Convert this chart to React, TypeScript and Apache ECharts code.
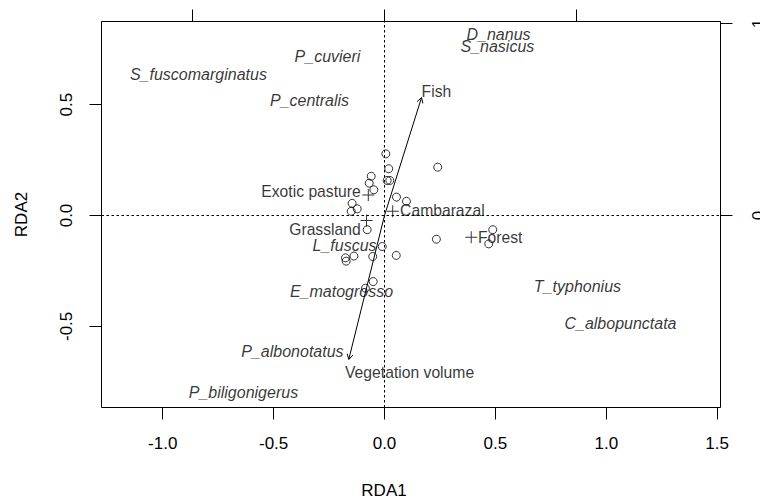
import React, { useEffect, useRef } from "react";
import * as echarts from "echarts";

// Axis ranges (primary: RDA scores; secondary: biplot scale)
const xRange = [-1.276, 1.515];
const yRange = [-0.866, 0.875];
const secondaryMult = 1.155;
const xTicks = [-1.0, -0.5, 0.0, 0.5, 1.0, 1.5];
const yTicks = [-0.5, 0.0, 0.5];
const topTicks = [-1, 0, 1];
const rightTicks = [0, 1];

// Site scores
const siteX = [0.006, 0.019, 0.24, -0.06, -0.069, 0.012, 0.024, -0.048, 0.054, 0.099, -0.146, -0.123, -0.15, -0.078, 0.234, 0.488, 0.47, -0.01, 0.053, -0.138, -0.176, -0.173, -0.053, -0.051, -0.086];
const siteY = [0.278, 0.211, 0.218, 0.177, 0.146, 0.158, 0.158, 0.116, 0.083, 0.064, 0.055, 0.03, 0.019, -0.064, -0.107, -0.064, -0.128, -0.14, -0.18, -0.183, -0.191, -0.206, -0.185, -0.298, -0.328];

// Species scores
const speciesNames = ["D_nanus", "S_nasicus", "P_cuvieri", "S_fuscomarginatus", "P_centralis", "L_fuscus", "E_matogrosso", "T_typhonius", "C_albopunctata", "P_albonotatus", "P_biligonigerus"];
const speciesX = [0.514, 0.509, -0.257, -0.839, -0.338, -0.18, -0.194, 0.87, 1.064, -0.415, -0.636];
const speciesY = [0.816, 0.762, 0.717, 0.636, 0.518, -0.135, -0.345, -0.32, -0.487, -0.615, -0.8];

// Factor centroids
const centroidNames = ["Exotic pasture", "Grassland", "Cambarazal", "Forest"];
const centroidX = [-0.073, -0.081, 0.037, 0.391];
const centroidY = [0.093, -0.023, 0.019, -0.098];
const centroidLabelX = [-0.105, -0.105, 0.068, 0.419];
const centroidLabelY = [0.108, -0.064, 0.023, -0.099];
const centroidLabelSide = ["left", "left", "right", "right"];

// Biplot arrows (continuous constraints)
const arrowNames = ["Fish", "Vegetation volume"];
const arrowX = [0.167, -0.161];
const arrowY = [0.532, -0.649];
const arrowLabelX = [0.234, 0.113];
const arrowLabelY = [0.559, -0.708];

const FONT = "'Liberation Sans', Arial, Helvetica, sans-serif";

export default function App() {
  const ref = useRef<HTMLDivElement>(null);
  useEffect(() => {
    if (!ref.current) return;
    const chart = echarts.init(ref.current, undefined, { renderer: "svg" });
    const axisCommon = {
      splitLine: { show: false },
      axisLine: { show: false, onZero: false },
    };
    const option: any = {
      animation: false,
      backgroundColor: "#ffffff",
      grid: {
        left: 101.5,
        top: 21.5,
        width: 619,
        height: 386,
        show: true,
        borderColor: "#000",
        borderWidth: 1,
        backgroundColor: "transparent",
        containLabel: false,
        outerBoundsMode: "none",
      },
      xAxis: [
        {
          type: "value",
          position: "bottom",
          min: xRange[0],
          max: xRange[1],
          ...axisCommon,
          axisTick: { show: true, length: 12, inside: false, customValues: xTicks, lineStyle: { color: "#000", width: 1 } },
          axisLabel: {
            show: true,
            customValues: xTicks,
            margin: 27,
            color: "#000",
            fontSize: 17,
            fontFamily: FONT,
            formatter: (v: number) => v.toFixed(1),
          },
          name: "RDA1",
          nameLocation: "middle",
          nameGap: 74,
          nameTextStyle: { color: "#000", fontSize: 17, fontFamily: FONT, padding: [0, 54, 0, 0] },
        },
        {
          type: "value",
          position: "top",
          min: xRange[0] * secondaryMult,
          max: xRange[1] * secondaryMult,
          ...axisCommon,
          axisTick: { show: true, length: 12, customValues: topTicks, lineStyle: { color: "#000", width: 1 } },
          axisLabel: { show: false },
        },
      ],
      yAxis: [
        {
          type: "value",
          position: "left",
          min: yRange[0],
          max: yRange[1],
          ...axisCommon,
          axisTick: { show: true, length: 12, customValues: yTicks, lineStyle: { color: "#000", width: 1 } },
          axisLabel: {
            show: true,
            customValues: yTicks,
            rotate: 90,
            margin: 27,
            color: "#000",
            fontSize: 17,
            fontFamily: FONT,
            formatter: (v: number) => v.toFixed(1),
          },
          name: "RDA2",
          nameLocation: "middle",
          nameGap: 72,
          nameTextStyle: { color: "#000", fontSize: 17, fontFamily: FONT },
        },
        {
          type: "value",
          position: "right",
          min: yRange[0] * secondaryMult,
          max: yRange[1] * secondaryMult,
          ...axisCommon,
          axisTick: { show: true, length: 12, customValues: rightTicks, lineStyle: { color: "#000", width: 1 } },
          axisLabel: {
            show: true,
            customValues: rightTicks,
            rotate: 90,
            margin: 29,
            color: "#000",
            fontSize: 17,
            fontFamily: FONT,
            formatter: (v: number) => String(v),
          },
        },
      ],
      series: [
        {
          type: "scatter",
          name: "zero",
          data: [],
          silent: true,
          markLine: {
            silent: true,
            symbol: ["none", "none"],
            label: { show: false },
            lineStyle: { color: "#000", width: 1, type: [2.5, 2.5] },
            data: [{ xAxis: 0 }, { yAxis: 0 }],
          },
        },
        {
          type: "scatter",
          name: "sites",
          symbol: "circle",
          symbolSize: 8,
          itemStyle: { color: "rgba(0,0,0,0)", borderColor: "#000", borderWidth: 1 },
          data: siteX.map((x, i) => [x, siteY[i]]),
          z: 3,
        },
        {
          type: "scatter",
          name: "centroids",
          symbol: "path://M5.5,0h1v12h-1z M0,5.5h12v1h-12z",
          symbolSize: 12,
          itemStyle: { color: "#000" },
          data: centroidX.map((x, i) => [x, centroidY[i]]),
          z: 4,
        },
        {
          type: "scatter",
          name: "centroidLabels",
          symbolSize: 1,
          itemStyle: { color: "rgba(0,0,0,0)" },
          data: centroidNames.map((n, i) => ({
            value: [centroidLabelX[i], centroidLabelY[i]],
            name: n,
            label: { position: centroidLabelSide[i], distance: 0 },
          })),
          label: {
            show: true,
            formatter: (p: any) => p.name,
            color: "#000",
            fontSize: 15.7,
            fontFamily: FONT,
          },
          z: 5,
        },
        {
          type: "scatter",
          name: "species",
          symbolSize: 1,
          itemStyle: { color: "rgba(0,0,0,0)" },
          data: speciesNames.map((n, i) => ({ value: [speciesX[i], speciesY[i]], name: n })),
          label: {
            show: true,
            position: "inside",
            formatter: (p: any) => p.name,
            color: "#000",
            fontSize: 16,
            fontStyle: "italic",
            fontFamily: FONT,
          },
          z: 5,
        },
        {
          type: "custom",
          name: "arrows",
          data: arrowX.map((x, i) => [x, arrowY[i]]),
          renderItem: (params: any, api: any) => {
            const o = api.coord([0, 0]);
            const t = api.coord([api.value(0), api.value(1)]);
            const ang = Math.atan2(t[1] - o[1], t[0] - o[0]);
            const L = 6;
            const a = Math.PI / 6;
            const p1 = [t[0] - L * Math.cos(ang - a), t[1] - L * Math.sin(ang - a)];
            const p2 = [t[0] - L * Math.cos(ang + a), t[1] - L * Math.sin(ang + a)];
            return {
              type: "group",
              children: [
                { type: "line", shape: { x1: o[0], y1: o[1], x2: t[0], y2: t[1] }, style: { stroke: "#000", lineWidth: 1 } },
                { type: "polyline", shape: { points: [p1, t, p2] }, style: { stroke: "#000", fill: "none", lineWidth: 1 } },
              ],
            };
          },
          z: 4,
        },
        {
          type: "scatter",
          name: "arrowLabels",
          symbolSize: 1,
          itemStyle: { color: "rgba(0,0,0,0)" },
          data: arrowNames.map((n, i) => ({ value: [arrowLabelX[i], arrowLabelY[i]], name: n })),
          label: {
            show: true,
            position: "inside",
            formatter: (p: any) => p.name,
            color: "#000",
            fontSize: 15.7,
            fontFamily: FONT,
          },
          z: 5,
        },
      ],
    };
    chart.setOption(option);
    return () => chart.dispose();
  }, []);
  return (
    <div
      ref={ref}
      style={{ position: "fixed", left: 0, top: 0, width: 760, height: 503, background: "#fff" }}
    />
  );
}
